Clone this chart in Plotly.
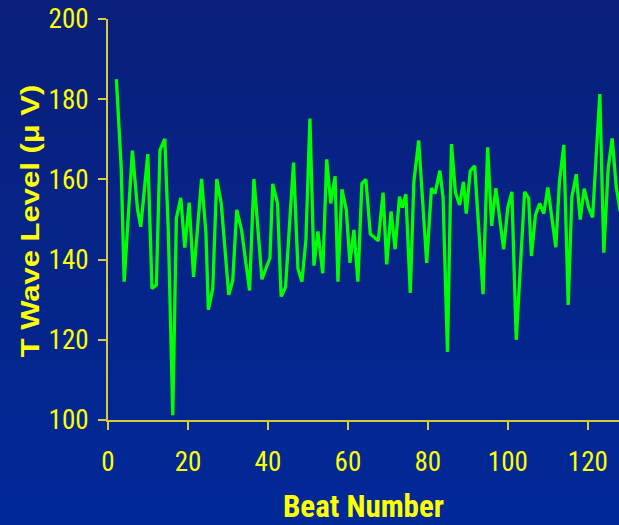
import plotly.graph_objects as go

# T-wave level per beat
beat = [
    2.1, 3.3, 4.05, 6.1, 7.4, 8.2, 9.95, 11.0, 12.1, 13.0,
    14.2, 15.1, 16.2, 17.1, 18.2, 19.2, 20.3, 21.4, 23.4, 24.5,
    25.1, 26.2, 27.2, 28.3, 30.2, 31.2, 32.2, 33.4, 35.4, 36.5,
    38.5, 40.5, 41.2, 42.4, 43.3, 44.4, 46.4, 47.5, 48.5, 49.5,
    50.5, 51.5, 52.5, 53.7, 54.7, 55.7, 56.8, 57.5, 58.5, 59.6,
    60.5, 61.5, 62.5, 63.5, 64.5, 65.6, 67.6, 68.8, 69.7, 70.8,
    71.8, 72.9, 73.6, 74.5, 75.6, 76.5, 77.7, 79.7, 80.9, 81.8,
    83.0, 83.8, 84.9, 85.9, 86.9, 87.95, 88.9, 89.6, 90.6, 91.7,
    93.8, 94.95, 95.95, 97.0, 98.95, 100.0, 101.0, 102.1, 104.2, 105.2,
    105.9, 106.9, 107.95, 109.0, 110.0, 112.0, 112.9, 114.0, 115.1, 116.0,
    117.1, 118.1, 119.1, 120.2, 121.2, 123.0, 124.0, 125.1, 126.1, 127.1, 128.1,
]
level = [
    185.0, 163.0, 134.5, 167.2, 152.4, 148.2, 166.3, 132.8, 133.7, 167.3,
    170.1, 146.6, 101.2, 150.3, 155.4, 143.0, 154.2, 135.7, 160.1, 146.6,
    127.5, 132.7, 160.1, 154.2, 131.2, 134.8, 152.4, 147.4, 132.3, 160.1,
    135.1, 140.4, 158.9, 154.0, 130.8, 133.1, 164.2, 137.8, 134.5, 144.9,
    175.2, 138.5, 147.0, 136.6, 165.0, 154.0, 160.8, 134.5, 157.5, 152.4,
    139.2, 147.4, 134.5, 159.0, 160.0, 146.4, 144.7, 156.7, 138.8, 152.0,
    142.6, 155.7, 153.0, 156.3, 131.7, 159.4, 169.7, 139.2, 157.8, 156.5,
    162.2, 155.5, 117.0, 168.8, 156.7, 153.6, 159.4, 151.5, 162.1, 163.4,
    131.4, 168.0, 148.4, 157.8, 142.6, 153.0, 156.9, 120.0, 156.9, 155.3,
    140.9, 151.1, 154.0, 151.5, 158.0, 143.1, 159.4, 168.6, 128.7, 155.5,
    161.3, 150.0, 157.7, 153.0, 150.5, 181.3, 141.7, 162.8, 170.2, 158.2, 152.0,
]

x_ticks = [0, 20, 40, 60, 80, 100, 120]
y_ticks = [100, 120, 140, 160, 180, 200]

W, H = 619, 525
M = dict(l=108, r=0, t=19, b=105)

YELLOW = "#ffff00"
AXIS = "#d6cc3c"
NARROW = "Liberation Sans Narrow, Arial Narrow, Roboto Condensed, DejaVu Sans Condensed, Liberation Sans, Arial, sans-serif"
SANS = "Liberation Sans, Arial, sans-serif"

fig = go.Figure(
    go.Scatter(
        x=beat, y=level, mode="lines",
        line=dict(color="#00ff00", width=3.3),
        hoverinfo="skip",
    )
)

# vertical blue gradient behind everything, built from thin bands
top_rgb = (10, 31, 122)
bot_rgb = (0, 41, 152)
pw = W - M["l"] - M["r"]
ph = H - M["t"] - M["b"]
y_lo = -M["b"] / ph
y_hi = 1 + M["t"] / ph
x_lo = -M["l"] / pw
n_bands = 60
shapes = []
for i in range(n_bands):
    f = i / (n_bands - 1)
    c = tuple(round(bot_rgb[k] + (top_rgb[k] - bot_rgb[k]) * f) for k in range(3))
    y0 = y_lo + (y_hi - y_lo) * i / n_bands
    y1 = y_lo + (y_hi - y_lo) * (i + 1) / n_bands + 0.002
    shapes.append(dict(
        type="rect", xref="paper", yref="paper", layer="below",
        x0=x_lo - 0.05, x1=1.05, y0=y0, y1=y1,
        fillcolor="rgb(%d,%d,%d)" % c, line=dict(width=0),
    ))

fig.update_layout(
    width=W, height=H, margin=M,
    paper_bgcolor="rgb(5,36,137)", plot_bgcolor="rgba(0,0,0,0)",
    showlegend=False, shapes=shapes,
    xaxis=dict(
        range=[0, 127.8], tickvals=x_ticks, ticks="outside", ticklen=8,
        tickwidth=2, tickcolor=AXIS, showline=True, linecolor=AXIS, linewidth=2,
        showgrid=False, zeroline=False, automargin=False,
        tickfont=dict(family=NARROW, size=27, color=YELLOW),
        ticklabelstandoff=9,
        title=dict(text="<b>Beat Number</b>", standoff=23,
                   font=dict(family=NARROW, size=31, color=YELLOW)),
    ),
    yaxis=dict(
        range=[100, 200], tickvals=y_ticks, ticks="outside", ticklen=8,
        tickwidth=2, tickcolor=AXIS, showline=True, linecolor=AXIS, linewidth=2,
        showgrid=False, zeroline=False, automargin=False,
        tickfont=dict(family=NARROW, size=27, color=YELLOW),
        ticklabelstandoff=4,
        title=dict(text="<b>T Wave Level (μ V)</b>", standoff=6,
                   font=dict(family=SANS, size=31, color=YELLOW)),
    ),
)

# narrow the rotated y title horizontally and centre it at (30, 221)
post = """
var gd = document.getElementById('{plot_id}');
var svg = gd.querySelector('svg.main-svg');
var el = gd.querySelector('.ytitle');
if (el && svg) {
  var s = svg.getBoundingClientRect();
  var r = el.getBoundingClientRect();
  var cx = r.left - s.left + r.width / 2;
  var cy = r.top - s.top + r.height / 2;
  var k = 0.82;
  var old = el.getAttribute('transform') || '';
  el.setAttribute('transform',
    'translate(' + (30 - k * cx) + ',' + (221 - cy) + ') scale(' + k + ',1) ' + old);
}
"""

fig.write_html("out.html", post_script=post)
